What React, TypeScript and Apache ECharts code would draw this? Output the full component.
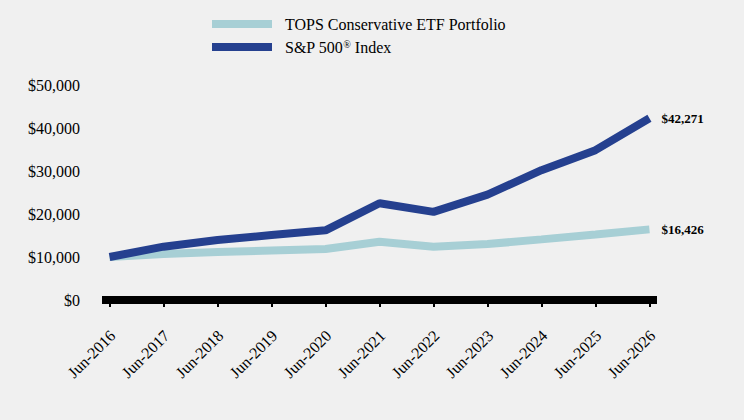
import React, { useEffect, useRef } from "react";
import * as echarts from "echarts";

const categories = ["Jun-2016", "Jun-2017", "Jun-2018", "Jun-2019", "Jun-2020", "Jun-2021", "Jun-2022", "Jun-2023", "Jun-2024", "Jun-2025", "Jun-2026"];
const topsValues = [10000, 10700, 11150, 11500, 11850, 13550, 12400, 13000, 14100, 15250, 16426];
const spValues = [10000, 12400, 13950, 15100, 16200, 22500, 20500, 24500, 30200, 34850, 42271];
const seriesNames = ["TOPS Conservative ETF Portfolio", "S&P 500® Index"];
const yTicks = [0, 10000, 20000, 30000, 40000, 50000];

const FONT = "'Liberation Serif', 'Times New Roman', serif";
const fmtMoney = (v: number) => "$" + Math.round(v).toLocaleString("en-US");

export default function App() {
  const ref = useRef<HTMLDivElement>(null);
  useEffect(() => {
    if (!ref.current) return;
    const chart = echarts.init(ref.current, undefined, { renderer: "svg" });
    const idx = categories.map((_, i) => i);
    const unitShift = 3 / 54;
    chart.setOption({
      animation: false,
      backgroundColor: "#F0F0F0",
      textStyle: { fontFamily: FONT },
      legend: {
        orient: "vertical",
        left: 207,
        top: 11,
        itemWidth: 60,
        itemHeight: 8,
        itemGap: 7,
        icon: "rect",
        data: seriesNames,
        formatter: (name: string) => (name.indexOf("®") >= 0 ? name.replace("®", "{sup|®}") : name),
        textStyle: {
          fontFamily: FONT,
          fontSize: 16,
          color: "#000",
          padding: [0, 0, 0, 8],
          rich: {
            sup: { fontSize: 10, fontFamily: FONT, color: "#000", verticalAlign: "top", padding: [0, 0, 6, 0] },
          },
        },
      },
      grid: { left: 102, right: 87, top: 85, bottom: 120 },
      xAxis: [
        {
          type: "value",
          min: -0.14,
          max: 10.14,
          splitLine: { show: false },
          axisLine: { show: true, lineStyle: { color: "#000", width: 8, cap: "butt" } },
          axisTick: { show: true, customValues: idx, length: 7, lineStyle: { color: "#000", width: 2 } },
          axisLabel: { show: false },
        },
        {
          type: "value",
          position: "bottom",
          min: -0.14 - unitShift,
          max: 10.14 - unitShift,
          splitLine: { show: false },
          axisLine: { show: false },
          axisTick: { show: false },
          axisLabel: {
            show: true,
            customValues: idx,
            rotate: 45,
            margin: 33,
            fontSize: 16,
            fontFamily: FONT,
            color: "#000",
            formatter: (v: number) => categories[Math.round(v)] ?? "",
          },
        },
      ],
      yAxis: {
        type: "value",
        min: 0,
        max: 50000,
        interval: 10000,
        splitLine: { show: false },
        axisLine: { show: false },
        axisTick: { show: false },
        axisLabel: {
          margin: 22,
          fontSize: 16,
          fontFamily: FONT,
          color: "#000",
          customValues: yTicks,
          formatter: (v: number) => fmtMoney(v),
        },
      },
      series: [
        {
          name: seriesNames[0],
          type: "line",
          xAxisIndex: 0,
          data: topsValues.map((v, i) => [i, v]),
          symbol: "none",
          color: "#A7CFD5",
          lineStyle: { color: "#A7CFD5", width: 8 },
          endLabel: {
            show: true,
            distance: 12,
            formatter: () => fmtMoney(topsValues[topsValues.length - 1]),
            fontFamily: FONT,
            fontSize: 13,
            fontWeight: "bold",
            color: "#000",
          },
        },
        {
          name: seriesNames[1],
          type: "line",
          xAxisIndex: 0,
          data: spValues.map((v, i) => [i, v]),
          symbol: "none",
          color: "#25408F",
          lineStyle: { color: "#25408F", width: 8 },
          endLabel: {
            show: true,
            distance: 12,
            formatter: () => fmtMoney(spValues[spValues.length - 1]),
            fontFamily: FONT,
            fontSize: 13,
            fontWeight: "bold",
            color: "#000",
          },
        },
      ],
    });
    return () => chart.dispose();
  }, []);
  return <div ref={ref} style={{ width: 744, height: 420, position: "absolute", left: 0, top: 0 }} />;
}
